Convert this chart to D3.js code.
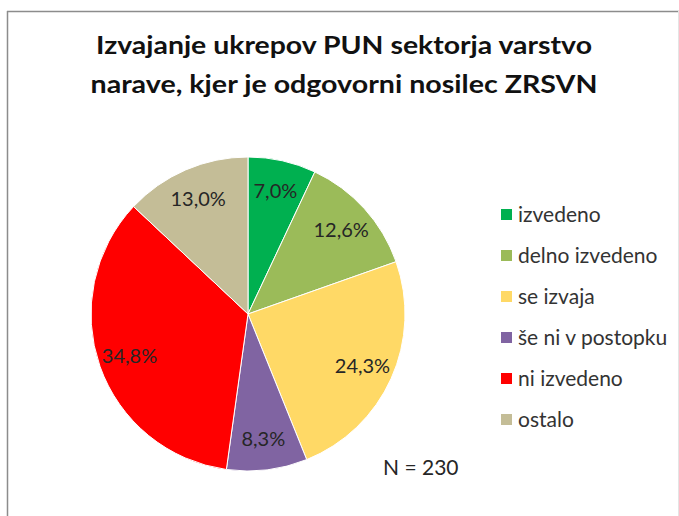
<!DOCTYPE html>
<html>
<head>
<meta charset="utf-8">
<script src="https://cdn.jsdelivr.net/npm/d3@7"></script>
<style>
  body { margin: 0; background: #fff; }
  text { font-family: Lato, "Open Sans", sans-serif; }
</style>
</head>
<body>
<svg id="chart" width="679" height="516"></svg>
<script>
const titleLines = ['Izvajanje ukrepov PUN sektorja varstvo', 'narave, kjer je odgovorni nosilec ZRSVN']
const categories = ['izvedeno', 'delno izvedeno', 'se izvaja', 'še ni v postopku', 'ni izvedeno', 'ostalo']
const values = [7.0, 12.6, 24.3, 8.3, 34.8, 13.0]
const colors = ['#00b050', '#9bbb59', '#ffd966', '#8064a2', '#ff0000', '#c4bd97']
const note = 'N = 230'

const svg = d3.select('#chart')
const cx = 248, cy = 314, radius = 157

// chart frame (top and left edges visible, right one faint)
svg.append('line').attr('x1', 7).attr('x2', 679).attr('y1', 11.5).attr('y2', 11.5)
  .attr('stroke', '#8c8c8c').attr('stroke-width', 1.5)
svg.append('line').attr('x1', 7.5).attr('x2', 7.5).attr('y1', 11).attr('y2', 516)
  .attr('stroke', '#8c8c8c').attr('stroke-width', 1.5)
svg.append('line').attr('x1', 678.5).attr('x2', 678.5).attr('y1', 11).attr('y2', 516)
  .attr('stroke', '#e4e4e4').attr('stroke-width', 1)

// title: Calibri is narrower than Lato, so squeeze glyphs to the original width
const titleWidths = [496, 507]
svg.append('g').attr('class', 'title')
  .selectAll('text')
  .data(titleLines)
  .join('text')
  .attr('x', 344)
  .attr('y', (d, i) => 54 + i * 39)
  .attr('text-anchor', 'middle')
  .attr('font-weight', 'bold')
  .attr('font-size', 24)
  .attr('fill', '#111')
  .attr('textLength', (d, i) => titleWidths[i])
  .attr('lengthAdjust', 'spacingAndGlyphs')
  .text(d => d)

const pie = d3.pie().sort(null).value(d => d)
const arcs = pie(values)
const arc = d3.arc().innerRadius(0).outerRadius(radius)
const labelArc = d3.arc().innerRadius(radius * 0.8).outerRadius(radius * 0.8)
const fmt = v => d3.format('.1f')(v).replace('.', ',') + '%'

const g = svg.append('g').attr('transform', `translate(${cx},${cy})`)

g.selectAll('path')
  .data(arcs)
  .join('path')
  .attr('d', arc)
  .attr('fill', (d, i) => colors[i])
  .attr('stroke', '#fff')
  .attr('stroke-width', 1)

g.selectAll('text')
  .data(arcs)
  .join('text')
  .attr('transform', d => `translate(${labelArc.centroid(d)})`)
  .attr('text-anchor', 'middle')
  .attr('dy', '0.35em')
  .attr('font-size', 20)
  .attr('fill', '#262626')
  .text(d => fmt(d.data))

// legend
const legend = svg.append('g').attr('class', 'legend')
  .selectAll('g')
  .data(categories)
  .join('g')
  .attr('transform', (d, i) => `translate(501,${214.5 + i * 41})`)

legend.append('rect')
  .attr('x', 0).attr('y', -5.5)
  .attr('width', 11).attr('height', 11)
  .attr('fill', (d, i) => colors[i])

legend.append('text')
  .attr('x', 17)
  .attr('y', 7)
  .attr('font-size', 21)
  .attr('fill', '#333')
  .text(d => d)

svg.append('text')
  .attr('x', 383)
  .attr('y', 475)
  .attr('font-size', 21)
  .attr('fill', '#262626')
  .text(note)
</script>
</body>
</html>
